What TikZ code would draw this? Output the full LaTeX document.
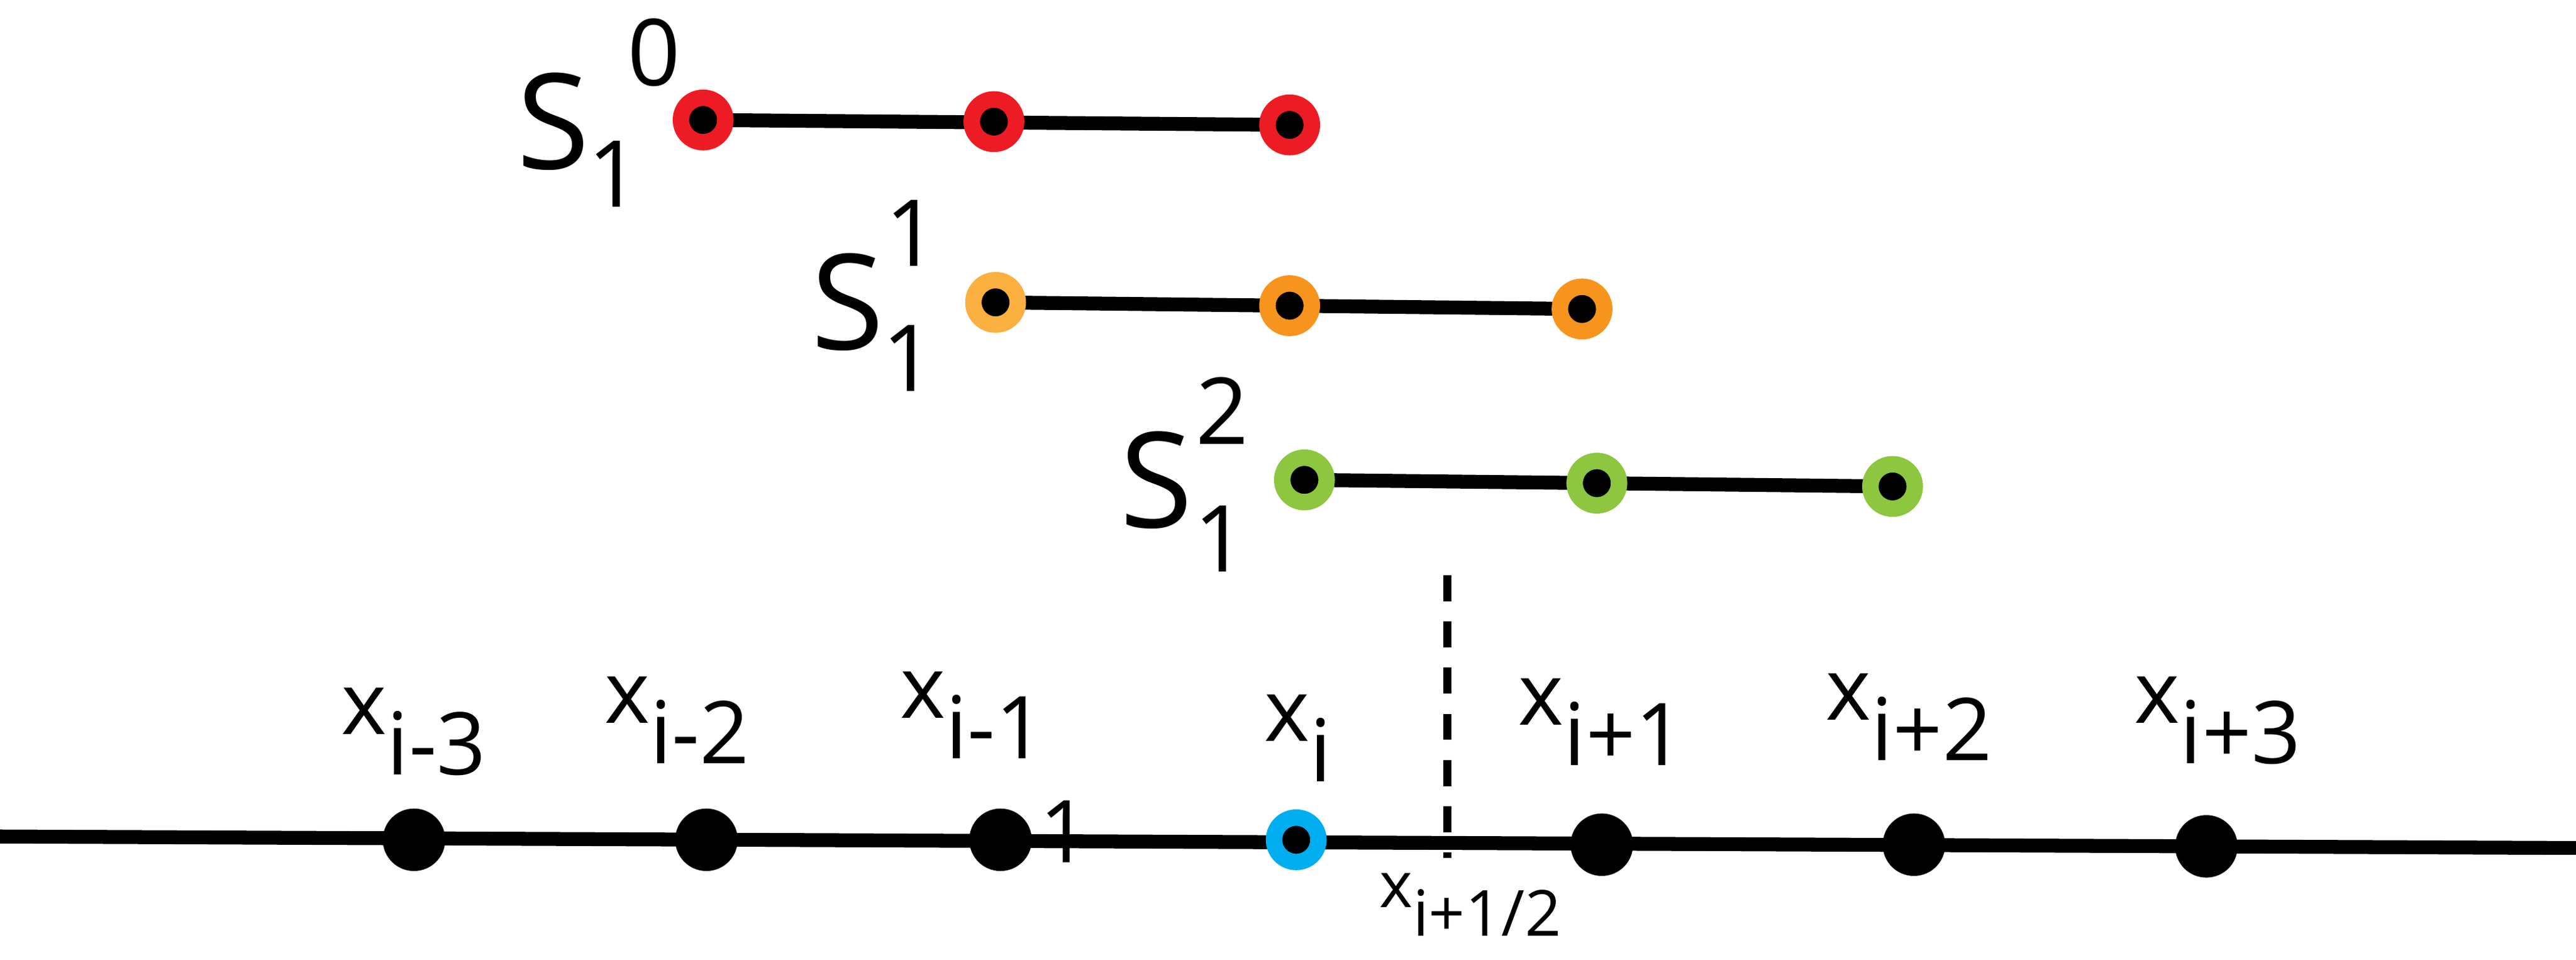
\documentclass[tikz,border=0pt]{standalone}
\usepackage{fontspec}
\setmainfont{Open Sans}
\begin{document}
\begin{tikzpicture}[x=0.01cm,y=-0.01cm,
  ring/.style={circle,draw=#1,fill=black,line width=0.1cm,minimum size=0.27cm,inner sep=0pt},
  bdot/.style={circle,fill=black,minimum size=0.38cm,inner sep=0pt},
  seg/.style={line width=2.4pt},
  xl/.style={font=\fontsize{15}{15}\selectfont,anchor=base},
  sl/.style={font=\fontsize{23}{23}\selectfont},
  il/.style={font=\fontsize{16}{16}\selectfont}]
\definecolor{cred}{RGB}{237,28,36}
\definecolor{corg}{RGB}{247,148,29}
\definecolor{corl}{RGB}{251,176,64}
\definecolor{cgrn}{RGB}{141,198,63}
\definecolor{cblu}{RGB}{0,174,239}
\useasboundingbox (0,0) rectangle (1568,584);
% stencils
\draw[seg] (428,73) -- (785,76);
\node[ring=cred] (a1) at (428,73) {};
\node[ring=cred] (a2) at (605,74) {};
\node[ring=cred] (a3) at (785,76) {};
\draw[seg] (606,184) -- (963,188);
\node[ring=corl] (b1) at (606,184) {};
\node[ring=corg] (b2) at (785,186) {};
\node[ring=corg] (b3) at (963,188) {};
\draw[seg] (794,292) -- (1152,296);
\node[ring=cgrn] (c1) at (794,292) {};
\node[ring=cgrn] (c2) at (972,294) {};
\node[ring=cgrn] (c3) at (1152,296) {};
\node[sl] (s0) at (337,74) {S};
\node[il] (s0u) at (398,32) {0};
\node[il] (s0d) at (374,106) {1};
\node[sl] (s1) at (516,184) {S};
\node[il] (s1u) at (555,142) {1};
\node[il] (s1d) at (553,218) {1};
\node[sl] (s2) at (704,292) {S};
\node[il] (s2u) at (744,250) {2};
\node[il] (s2d) at (743,328) {1};
% axis
\coordinate (L) at (0,509);
\coordinate (R) at (1568,516);
\draw[seg] (L) -- (R);
\node[bdot] (p1) at (252,511) {};
\node[bdot] (p2) at (430,511) {};
\node[bdot] (p3) at (609,511) {};
\node[ring=cblu] (p4) at (789,511) {};
\node[bdot] (p5) at (975,514) {};
\node[bdot] (p6) at (1165,514) {};
\node[bdot] (p7) at (1343,515) {};
\node[xl] at (252,447) {x\raisebox{-7pt}{i-3}};
\node[xl] at (412,440) {x\raisebox{-7pt}{i-2}};
\node[xl] at (592,437) {x\raisebox{-7pt}{i-1}};
\node[xl] at (790,451) {x\raisebox{-7pt}{i}};
\node[xl] at (975,441) {x\raisebox{-7pt}{i+1}};
\node[xl] at (1162,438) {x\raisebox{-7pt}{i+2}};
\node[xl] at (1350,440) {x\raisebox{-7pt}{i+3}};
\node[font=\fontsize{15}{15}\selectfont] at (648,506) {1};
\coordinate (dt) at (881,350);
\coordinate (db) at (881,522);
\draw[line width=1.4pt,dash pattern=on 4.5pt off 3.5pt] (dt) -- (db);
\node[font=\fontsize{11}{11}\selectfont,anchor=base] at (895,552) {x\raisebox{-5pt}{i+1/2}};
\end{tikzpicture}
\end{document}
